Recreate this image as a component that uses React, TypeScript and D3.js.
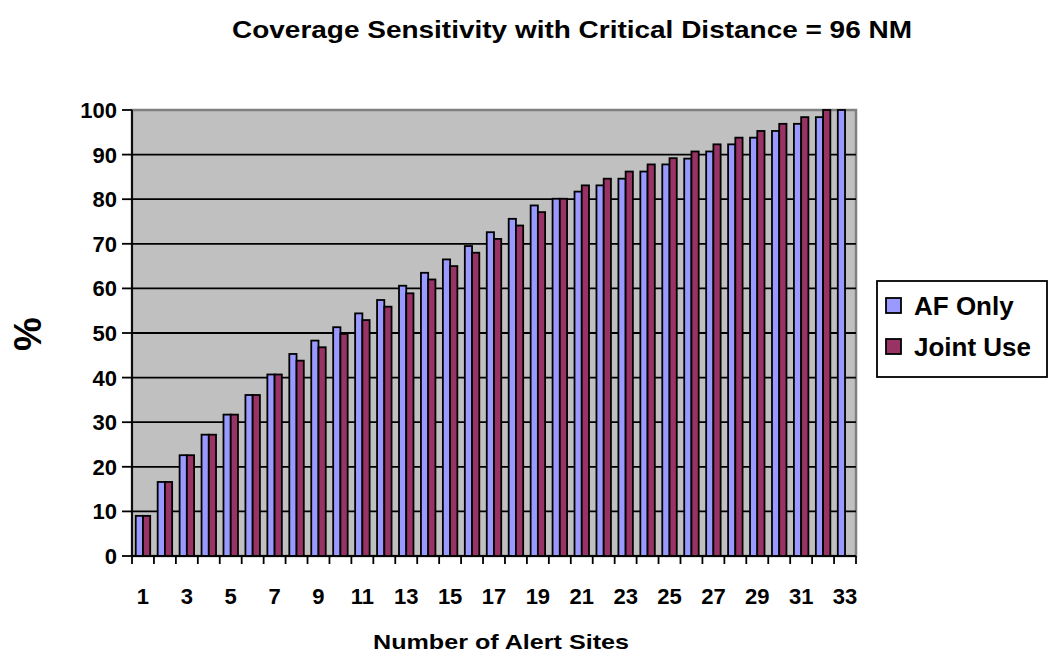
import * as d3 from "d3";

const sites = d3.range(1, 34).map(String);
const afOnly = [9.0, 16.6, 22.6, 27.2, 31.7, 36.1, 40.7, 45.3, 48.3, 51.3, 54.4, 57.4, 60.6, 63.5, 66.5, 69.5, 72.6, 75.6, 78.6, 80.1, 81.7, 83.1, 84.6, 86.2, 87.8, 89.1, 90.7, 92.3, 93.8, 95.3, 96.9, 98.4, 100];
const jointUse = [9.0, 16.6, 22.6, 27.2, 31.7, 36.1, 40.7, 43.8, 46.8, 49.8, 52.9, 55.9, 58.9, 62.0, 65.0, 68.0, 71.1, 74.1, 77.1, 80.1, 83.1, 84.6, 86.2, 87.8, 89.2, 90.7, 92.3, 93.8, 95.3, 96.9, 98.4, 100, null];
const seriesNames = ["AF Only", "Joint Use"];
const seriesColors = ["#9999FF", "#993366"];
const yTicks = [0, 10, 20, 30, 40, 50, 60, 70, 80, 90, 100];

const FONT = "'Liberation Sans', Arial, Helvetica, sans-serif";

export default function App() {
  const width = 1050;
  const height = 655;
  const m = { left: 132, top: 110, right: 856, bottom: 556 };

  const x0 = d3.scaleBand<string>().domain(sites).range([m.left, m.right]);
  const x1 = d3
    .scaleBand<string>()
    .domain(seriesNames)
    .range([x0.bandwidth() * 0.17, x0.bandwidth() * 0.83]);
  const y = d3.scaleLinear().domain([0, 100]).range([m.bottom, m.top]);

  const allSeries = [afOnly, jointUse];
  const boundaries = d3.range(0, sites.length + 1).map((i) => m.left + i * x0.step());

  return (
    <svg
      width={width}
      height={height}
      style={{ position: "absolute", left: 0, top: 0, background: "#fff" }}
      fontFamily={FONT}
      fontWeight="bold"
    >
      {/* title */}
      <text x={572} y={38} textAnchor="middle" fontSize={24} textLength={680} lengthAdjust="spacingAndGlyphs">
        Coverage Sensitivity with Critical Distance = 96 NM
      </text>

      {/* plot area */}
      <rect
        x={m.left}
        y={m.top}
        width={m.right - m.left}
        height={m.bottom - m.top}
        fill="#C0C0C0"
        stroke="#808080"
        strokeWidth={2.5}
      />
      {yTicks
        .filter((t) => t > 0 && t < 100)
        .map((t) => (
          <line key={t} x1={m.left} x2={m.right} y1={y(t)} y2={y(t)} stroke="#000" strokeWidth={1.8} />
        ))}

      {/* bars */}
      {allSeries.map((vals, si) => (
        <g key={si}>
          {vals.map((v, i) =>
            v == null ? null : (
              <rect
                key={i}
                x={(x0(sites[i]) ?? 0) + (x1(seriesNames[si]) ?? 0)}
                y={y(v)}
                width={x1.bandwidth()}
                height={y(0) - y(v)}
                fill={seriesColors[si]}
                stroke="#000"
                strokeWidth={1.8}
              />
            )
          )}
        </g>
      ))}

      {/* y axis */}
      <line x1={m.left} x2={m.left} y1={m.top} y2={m.bottom} stroke="#000" strokeWidth={1.8} />
      {yTicks.map((t) => (
        <g key={t}>
          <line x1={m.left - 10} x2={m.left} y1={y(t)} y2={y(t)} stroke="#000" strokeWidth={1.8} />
          <text x={117} y={y(t)} dy="0.36em" textAnchor="end" fontSize={22}>
            {t}
          </text>
        </g>
      ))}

      {/* x axis */}
      <line x1={m.left} x2={m.right} y1={m.bottom} y2={m.bottom} stroke="#000" strokeWidth={1.8} />
      {boundaries.map((bx, i) => (
        <line key={i} x1={bx} x2={bx} y1={m.bottom} y2={m.bottom + 8} stroke="#000" strokeWidth={1.8} />
      ))}
      {sites
        .filter((_, i) => i % 2 === 0)
        .map((s) => (
          <text key={s} x={(x0(s) ?? 0) + x0.bandwidth() / 2} y={604} textAnchor="middle" fontSize={22}>
            {s}
          </text>
        ))}

      {/* axis titles */}
      <text x={501} y={649} textAnchor="middle" fontSize={21} textLength={256} lengthAdjust="spacingAndGlyphs">
        Number of Alert Sites
      </text>
      <text transform="translate(41,334) rotate(-90)" textAnchor="middle" fontSize={38}>
        %
      </text>

      {/* legend */}
      <rect x={877} y={281} width={170} height={96} fill="#fff" stroke="#000" strokeWidth={1.8} />
      {seriesNames.map((name, i) => (
        <g key={name} transform={`translate(886,${298 + i * 41})`}>
          <rect x={0} y={0} width={15} height={15} fill={seriesColors[i]} stroke="#000" strokeWidth={1.8} />
          <text x={28} y={17} fontSize={26}>
            {name}
          </text>
        </g>
      ))}
    </svg>
  );
}
